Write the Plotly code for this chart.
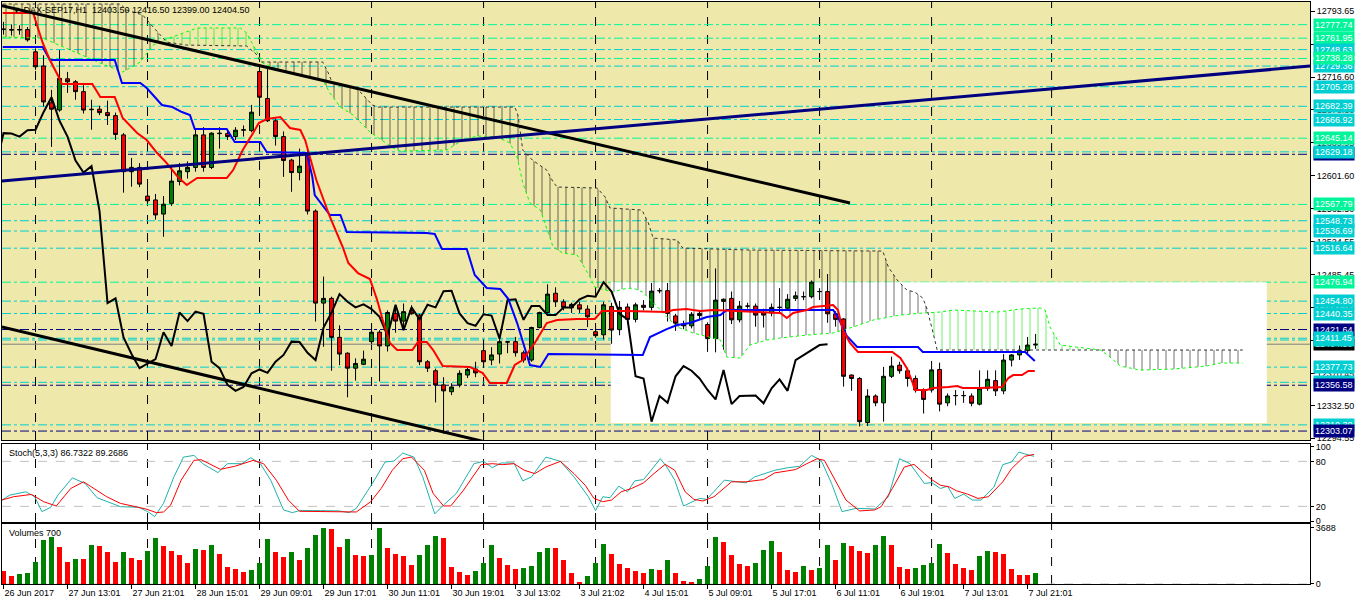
import numpy as np
import plotly.graph_objects as go
from plotly.subplots import make_subplots

# ---------------- DAX-SEP17, H1 bars (bar 0 = 26 Jun 2017 ... bar 129 = 7 Jul 2017) ----------------
opens = [12772, 12772, 12771.5, 12772, 12746, 12729.5, 12686.5, 12678, 12714.5, 12711,
         12699.5, 12679, 12679, 12675, 12671.5, 12649, 12606, 12611, 12577.5, 12573,
         12556.5, 12569, 12594.5, 12606, 12611, 12649, 12611, 12651, 12650.5, 12647,
         12654.5, 12654, 12723, 12691.5, 12665.5, 12647, 12619.5, 12605, 12625.5, 12560,
         12452.5, 12458, 12412.5, 12394, 12376.5, 12381, 12407.5, 12418.5, 12402.5, 12440.5,
         12431.5, 12443.5, 12438.5, 12384, 12373.5, 12357, 12349, 12357, 12368.5, 12375.5,
         12397, 12386, 12393, 12407.5, 12407.5, 12394.5, 12386, 12424, 12441.5, 12464,
         12454, 12447, 12450.5, 12445.5, 12419, 12415.5, 12448.5, 12421.5, 12448, 12433.5,
         12450, 12447.5, 12467, 12467, 12437.5, 12428, 12426, 12440.5, 12427.5, 12411,
         12454.5, 12458, 12433, 12449, 12449, 12441, 12441, 12447.5, 12446.5, 12458,
         12460, 12460, 12466, 12466, 12440, 12434, 12368.5, 12364.5, 12313, 12344,
         12336, 12367, 12380, 12373.5, 12364.5, 12351, 12351, 12375, 12336, 12344.5,
         12344.5, 12344, 12334.5, 12353, 12362, 12350, 12386, 12392, 12397, 12403.5]
highs = [12781, 12778, 12777, 12775, 12750, 12742, 12701.5, 12748, 12722.5, 12713,
         12707, 12690, 12683, 12689, 12675, 12651, 12622, 12616, 12588, 12580,
         12577.5, 12614, 12616, 12618, 12656, 12658, 12652, 12658, 12654, 12658,
         12660, 12684, 12729, 12728.5, 12668, 12653, 12621, 12633, 12633.5, 12562,
         12483.5, 12460, 12426.5, 12395, 12388, 12397, 12428, 12421, 12444, 12450,
         12452, 12450, 12440, 12386, 12376, 12366, 12359, 12374, 12377, 12384,
         12410, 12401, 12413, 12408, 12413, 12397, 12425, 12442.5, 12474.5, 12471,
         12457, 12453, 12454, 12450, 12421, 12454, 12453, 12455, 12452, 12453,
         12456, 12476, 12470, 12476, 12440, 12432, 12442, 12444, 12430, 12493,
         12458, 12466, 12455, 12453, 12452, 12446, 12452, 12470, 12463, 12466,
         12466, 12479, 12470, 12486.5, 12443, 12435, 12369, 12366, 12352, 12346,
         12378, 12390, 12384, 12377, 12368, 12353, 12385, 12383, 12347, 12351,
         12350, 12347, 12374, 12374, 12374, 12393, 12393, 12403, 12413, 12416.5]
lows = [12766, 12765, 12766, 12758, 12725, 12682, 12635, 12676, 12698, 12690,
        12674, 12655, 12672, 12660.5, 12643, 12581.5, 12588.5, 12588, 12569, 12550,
        12530, 12566, 12590, 12598, 12606, 12606, 12609, 12633, 12643, 12643,
        12647, 12652, 12682, 12664, 12636.5, 12600, 12582.5, 12596, 12556, 12431,
        12401.5, 12373.5, 12380, 12342.5, 12362, 12380, 12405, 12361, 12396, 12418,
        12424, 12439, 12380, 12372, 12336.5, 12300, 12345, 12354, 12365, 12366,
        12377, 12380, 12382, 12394, 12390, 12383, 12384, 12423, 12440, 12448,
        12444, 12441, 12441, 12424.5, 12412, 12410, 12405, 12415, 12428, 12430,
        12444, 12444, 12464, 12431, 12420, 12422, 12423, 12434, 12395.5, 12395,
        12398, 12428, 12430, 12446, 12425, 12424, 12437, 12440, 12444, 12455,
        12456, 12458, 12456, 12429.5, 12425, 12355, 12350, 12308.5, 12309, 12332,
        12314, 12365, 12370, 12355, 12348, 12323.5, 12348, 12326, 12332, 12333,
        12336, 12332, 12333, 12350, 12344, 12346, 12378.5, 12386, 12392, 12399]
closes = [12772.5, 12771.5, 12772, 12760, 12728.5, 12687.5, 12679, 12715, 12711, 12699.5,
          12678, 12678.5, 12675, 12671.5, 12649.5, 12606, 12611, 12591.5, 12572, 12555.5,
          12568, 12595, 12607, 12611, 12649, 12611, 12651, 12650.5, 12647, 12654.5,
          12655, 12675.5, 12693, 12665.5, 12647, 12619, 12605, 12612.5, 12560, 12452.5,
          12458, 12412.5, 12393, 12376.5, 12382, 12387, 12418.5, 12402.5, 12441.5, 12431.5,
          12442.5, 12440, 12384, 12376.5, 12357, 12350, 12354.5, 12370.5, 12375, 12371,
          12384, 12392, 12407.5, 12407, 12394.5, 12386, 12424, 12441.5, 12463, 12454,
          12447.5, 12451, 12445.5, 12436.5, 12414.5, 12450.5, 12421, 12447.5, 12433.5, 12450.5,
          12447.5, 12466.5, 12467, 12440.5, 12429, 12426, 12439.5, 12438, 12411, 12456,
          12457, 12433, 12449, 12449, 12438.5, 12438.5, 12447.5, 12447.5, 12457, 12461,
          12460, 12477, 12466, 12440, 12433.5, 12367, 12364.5, 12314, 12344, 12336,
          12367, 12379, 12373.5, 12364.5, 12351, 12340, 12374.5, 12334.5, 12344, 12344.5,
          12344.5, 12335.5, 12353, 12363.5, 12350, 12386, 12392, 12397, 12403.5, 12404.5]
volumes = [856, 549, 659, 746, 1449, 2898, 3095, 2437, 1449, 1646,
           1620, 2568, 2503, 2107, 1449, 2107, 1712, 1581, 2173, 3029,
           2503, 2173, 1910, 1383, 2305, 2239, 2568, 1976, 1120, 988,
           790, 922, 1383, 2964, 2107, 1778, 2107, 1581, 2371, 3227,
           3688, 3622, 2437, 2964, 1910, 1844, 1870, 3650, 2371, 1976,
           1844, 1251, 1910, 2568, 3161, 3029, 1120, 790, 593, 856,
           1383, 2568, 1712, 1251, 988, 1054, 1185, 2107, 2371, 2330,
           1581, 725, 132, 527, 1383, 2634, 1976, 1317, 1054, 856,
           725, 988, 922, 1581, 725, 198, 132, 329, 1185, 3095,
           2766, 1910, 1317, 1185, 1383, 2239, 2832, 2107, 922, 790,
           1185, 922, 1054, 2568, 1581, 2700, 2503, 2173, 2042, 2568,
           3161, 2568, 1120, 988, 1054, 1251, 1383, 2634, 2042, 1317,
           1054, 922, 1844, 2173, 2107, 1976, 988, 593, 570, 725]
bars = list(range(len(opens)))

# x axis labels (every 8 bars)
tick_bars = list(range(0, 129, 8))
tick_text = ["26 Jun 2017", "27 Jun 13:01", "27 Jun 21:01", "28 Jun 15:01", "29 Jun 09:01",
             "29 Jun 17:01", "30 Jun 11:01", "30 Jun 19:01", "3 Jul 13:02", "3 Jul 21:02",
             "4 Jul 15:01", "5 Jul 09:01", "5 Jul 17:01", "6 Jul 11:01", "6 Jul 19:01",
             "7 Jul 13:01", "7 Jul 21:01"]
grid_bars = [4, 18, 32, 46, 60, 74, 88, 102, 116, 131]

# ---------------- Ichimoku, read as (bar, price) vertices ----------------
tenkan_x = [-0.1, 3.7, 4.9, 5.8, 6.9, 7.3, 11.1, 12.1, 13.9, 14.9, 16.7, 17.9, 19.2, 20.4, 21.8, 22.9,
            24.2, 27.9, 28.7, 29.9, 31.2, 31.9, 32.9, 34.6, 35.8, 37.1, 37.7, 39.1, 40.8, 42.4, 43.1,
            44.3, 45.8, 46.7, 47.4, 48.3, 49.2, 51.1, 51.8, 52.9, 53.7, 54.9, 58.3, 59.9, 60.8, 62.9,
            63.9, 64.9, 66.4, 67.9, 69.2, 71.7, 73.9, 74.8, 77.9, 82.9, 83.7, 85.4, 86.2, 87.1, 88.7,
            97.1, 97.9, 98.7, 100.4, 101.2, 103.7, 104.3, 104.9, 105.8, 106.8, 111.1, 112.1, 112.9,
            113.6, 113.9, 115.4, 116.2, 118.1, 119.2, 119.9, 122.1, 124.8, 125.6, 126.2, 127.3,
            128.1, 128.9]
tenkan_y = [12791.3, 12791.3, 12756.3, 12736.4, 12716.6, 12708.4, 12708.4, 12693.2, 12693.2, 12668.7,
            12651.2, 12643, 12627.8, 12616.1, 12599.8, 12590.4, 12598.6, 12598.6, 12607.9, 12631.3,
            12651.2, 12662.8, 12667.5, 12669.8, 12657, 12654.7, 12643, 12596.3, 12553.1, 12518,
            12499.3, 12487.6, 12480.6, 12456.1, 12432.7, 12405.9, 12397.7, 12397.7, 12407.1, 12407.1,
            12397.7, 12379, 12377.9, 12370.8, 12359.2, 12359.2, 12380.2, 12386, 12405.9, 12429.2,
            12432.7, 12433.9, 12433.9, 12443.3, 12443.3, 12442.1, 12444.4, 12445.6, 12444.4, 12443.3,
            12444.4, 12440.9, 12435.1, 12440.9, 12444.4, 12447.9, 12450.3, 12444.4, 12421.1, 12405.9,
            12395.4, 12395.4, 12388.4, 12376.7, 12360.3, 12351, 12351, 12353.3, 12354.5, 12355.7,
            12353.3, 12353.3, 12354.5, 12365, 12368.5, 12368.5, 12373.2, 12373.2]
kijun_x = [-0.1, 4.9, 5.8, 13.9, 14.8, 17.1, 17.9, 19.8, 21.1, 22.3, 23.3, 23.9, 27.9, 28.9, 32.1,
           32.9, 37.9, 38.6, 38.9, 39.8, 40.8, 42.1, 42.9, 52.9, 53.9, 54.8, 57.9, 58.9, 60.4, 62.1,
           63.1, 64.2, 65.8, 67.1, 68.1, 79.9, 80.8, 82.9, 84.2, 85.8, 87.9, 89.6, 90.4, 103.7, 104.3,
           105.4, 106.7, 114.3, 114.9, 127.7, 128.3, 128.9]
kijun_y = [12751.6, 12751.6, 12736.4, 12736.4, 12709.6, 12709.6, 12703.7, 12683.9, 12681.5, 12675.7,
           12672.2, 12655.8, 12655.8, 12640.6, 12640.6, 12629, 12627.8, 12599.8, 12578.7, 12567.1,
           12555.4, 12555.4, 12535.5, 12534.4, 12533.2, 12515.7, 12515.7, 12485.3, 12470.1, 12468.9,
           12457.3, 12429.2, 12380.2, 12377.9, 12393, 12391.9, 12412.9, 12422.2, 12426.9, 12429.2,
           12436.2, 12438.6, 12444.4, 12444.4, 12436.2, 12414.1, 12401.2, 12401.2, 12395.4, 12395.4,
           12390.7, 12384.9]
span_a_x = [-0.1, 4.9, 12.1, 13.3, 14.9, 17.1, 18.7, 20.4, 22.9, 24.2, 29.6, 30.4, 31.2, 32.4, 34.6,
            38.3, 39.9, 40.8, 42.1, 43.7, 45.8, 48.7, 49.6, 55.4, 57.4, 59.2, 61.7, 63.3, 64.2, 64.9,
            65.8, 67.1, 68.7, 69.9, 71.7, 73.3, 73.9, 76.2, 77.4, 78.7, 79.9, 82.1, 84.2, 86.2, 89.6,
            90.4, 92.1, 93.3, 95.4, 97.1, 100.4, 103.7, 106.2, 108.7, 112.1, 114.9, 117.1, 118.7,
            122.9, 124.2, 127.1, 129.6, 130.2, 130.8, 132.1, 137.1, 138.3, 139.6, 142.1, 146.2,
            150.4, 152.1, 154.9]
span_a_y = [12763.3, 12762.1, 12732.9, 12728.2, 12722.4, 12734.1, 12753.9, 12761, 12769.1, 12773.8,
            12773.8, 12768, 12753.9, 12732.9, 12724.7, 12716.6, 12713, 12697.9, 12681.5, 12672.2,
            12652.3, 12633.6, 12630.1, 12631.3, 12643, 12647.7, 12646.5, 12639.5, 12623.1, 12592.8,
            12569.4, 12561.2, 12518, 12511, 12508.7, 12483, 12471.3, 12465.4, 12468.9, 12470.1,
            12465.4, 12444.4, 12424.6, 12417.6, 12409.4, 12389.5, 12388.4, 12403.5, 12409.4, 12411.7,
            12415.2, 12417.6, 12424.6, 12432.7, 12438.6, 12440.9, 12442.1, 12444.4, 12443.3, 12442.1,
            12445.6, 12446.8, 12444.4, 12424.6, 12403.5, 12397.7, 12389.5, 12379, 12374.3, 12375.5,
            12379, 12382.5, 12382.5]
span_b_x = [-0.1, 14.6, 15.4, 17.4, 18.7, 19.9, 20.4, 22.9, 30.4, 31.7, 32.1, 39.9, 40.6, 41.1, 43.7,
            44.6, 46.1, 46.8, 63.9, 64.3, 64.6, 64.9, 66.1, 67.9, 68.7, 69.2, 74.2, 75.2, 75.8, 79.8,
            80.6, 81.2, 84.2, 84.9, 93.3, 109.9, 110.6, 111.7, 112.9, 113.9, 114.9, 115.4, 116.1,
            116.7, 154.9]
span_b_y = [12801.8, 12801.8, 12794.8, 12789, 12775, 12762.1, 12757.4, 12753.9, 12752.8, 12742.3,
            12734.1, 12734.1, 12721.2, 12709.6, 12704.9, 12699, 12683.9, 12681.5, 12681.5, 12672.2,
            12651.2, 12631.3, 12619.6, 12607.9, 12593.9, 12588.1, 12586.9, 12576.4, 12563.6, 12561.2,
            12546, 12528.5, 12526.2, 12516.8, 12514.5, 12513.3, 12494.6, 12479.5, 12467.8, 12465.4,
            12458.4, 12446.8, 12421.1, 12397.7, 12397.7]
# bars where the cloud changes colour
cloud_twists = [-0.1, 20.2, 32.3, 115.5, 136.5, 154.9]
cloud_bull = [False, True, False, True, False]

# ---------------- Stochastic(5,3,3), read as (bar, value) vertices ----------------
stoch_k_x = [-0.2, 0.8, 2.8, 3.9, 4.8, 5.9, 6.8, 8.6, 10.2, 11.7, 14.6, 16.9, 18, 18.9, 20, 21.3,
             22.5, 23.8, 24.9, 26.8, 28, 29.8, 30.9, 32.1, 33.4, 35, 36.1, 37, 39.6, 41.9, 43.2,
             44.1, 46.1, 47.7, 48.8, 49.9, 51.3, 52.4, 53.9, 55, 56.6, 58.8, 60, 61.1, 62.2, 63.8,
             64.9, 66, 67.8, 69.6, 71.3, 73.1, 74, 74.9, 75.8, 76.9, 78, 78.9, 80, 82.1, 82.9,
             83.9, 85, 86.1, 87, 87.9, 90.1, 92.8, 93.9, 96.4, 98.1, 99.5, 101, 102.2, 103.5,
             104.8, 106.6, 108.9, 110.6, 112, 113.3, 115.1, 116, 117.1, 118, 118.9, 120, 121.1,
             122.2, 123.8, 124.9, 126, 126.9, 127.6, 128.8]
stoch_k_y = [28.4, 35, 39.4, 32.8, 13, 18.7, 35, 58, 50.5, 31.5, 19.6, 18.7, 13, 6.4, 24, 59.3,
             85.7, 87.9, 76.9, 65, 76.9, 76.9, 84.9, 76.9, 54.9, 15.2, 11.6, 14.3, 14.3, 13.9, 11.6,
             17.4, 50.5, 79.1, 80.4, 91, 85.7, 59.3, 9.9, 21.8, 37.2, 76.9, 80, 71.6, 77.8, 77.8,
             54, 59.3, 85.7, 80, 59.3, 32.8, 14.3, 32.8, 31.5, 46.9, 39.4, 54, 55.7, 83.5, 72.5,
             54.9, 20.5, 26.2, 30.6, 29.3, 54.9, 51.3, 59.3, 68.1, 71.6, 73.4, 87.9, 81.3, 50.5,
             13, 17.4, 16.5, 32.8, 83.5, 76.9, 50.5, 51.8, 43.8, 46.9, 30.6, 36.3, 28.4,
             28.4, 46, 75.6, 79.1, 92.3, 90.1, 86.7]
stoch_d_x = [-0.2, 1.25, 3.5, 5, 6.6, 8.4, 10, 11.3, 12.9, 14.6, 16.4, 17.8, 19.1, 20, 20.9, 22.2,
             23.8, 24.7, 27.1, 28.9, 31.2, 32.5, 34.1, 35.6, 37, 44.1, 45.9, 47.2, 48.6, 49.9, 51,
             52.6, 53.7, 55, 55.9, 57.5, 59.7, 61.1, 62.4, 63.8, 65.1, 66.4, 67.8, 69.6, 71.3, 72.7,
             73.8, 74.9, 76, 77.2, 78.5, 80, 81.4, 82.7, 83.9, 85.2, 86.3, 87.4, 88.8, 91, 92.8, 95,
             96.4, 99, 100.4, 101.7, 102.6, 104, 105.3, 107, 108.9, 109.7, 111.1, 112.6, 113.8,
             115.1, 116, 117.1, 118.2, 119.1, 120.5, 121.8, 123.1, 124.9, 126, 127.6, 128.8]
stoch_d_y = [28.4, 32.8, 35.9, 26.2, 20.5, 43.8, 52.7, 43.8, 32.8, 24, 19.6, 16.5, 11.6, 12.5, 21.8,
             54.9, 81.3, 82.2, 69.4, 73.4, 81.3, 76.9, 54.9, 28.4, 13.4, 12.5, 26.2, 43.8, 68.1, 83.5,
             85.7, 68.1, 37.2, 20.5, 20.5, 41.6, 75.6, 76.9, 75.6, 76.9, 68.1, 63.7, 72.5, 80, 63.7,
             48.2, 30.6, 26.2, 28.4, 39.4, 43.8, 51.3, 64.6, 76, 68.1, 39.4, 29.3, 27.1, 32.8, 52.7,
             52.7, 55.7, 64.6, 69, 76.9, 83.5, 81.3, 54.9, 28.4, 13.9, 15.2, 19.6, 43.8, 72.5, 76,
             63.7, 55.7, 48.2, 46, 40.8, 36.3, 30.6, 32.8, 52.7, 70.3, 86.6, 89.3]

# ---------------- horizontal levels and trend lines ----------------
green_levels = [12777.74, 12761.95, 12738.28, 12645.14, 12567.79, 12476.94]
cyan_levels = [12748.63, 12729.36, 12705.28, 12682.39, 12666.92, 12629.18, 12548.73, 12536.69,
               12516.64, 12454.80, 12440.35, 12411.45, 12409.40, 12377.73, 12360.00, 12310.30]
navy_levels = [12626.30, 12421.64, 12356.58, 12303.07]
last_price = 12404.50
hidden_labels = [12404.50, 12409.40, 12360.00, 12626.30, 12310.30, 12729.36]
price_ticks = [12294.55, 12332.50, 12370.45, 12408.50, 12447.00, 12485.45, 12524.55, 12562.50,
               12601.60, 12639.95, 12678.30, 12716.60, 12755.10, 12793.65]
trend_upper = [(-0.6, 12800.7), (105.8, 12569.4)]
trend_lower = [(-0.2, 12424.6), (64.0, 12282.0)]
trend_rising = [(-0.2, 12595.1), (163.3, 12729.4)]
box_bars = [75.9, 157.9]
box_prices = [12312.5, 12476.94]

GOLD = "#EEE8AA"
SPRING = "#00F59B"
TURQ = "#00CED1"
NAVY = "#000080"
FONT = "Liberation Sans, DejaVu Sans, sans-serif"

fig = make_subplots(rows=3, cols=1, shared_xaxes=True, vertical_spacing=0.0)

# cloud hatch
for (b0, b1), bull in zip(zip(cloud_twists[:-1], cloud_twists[1:]), cloud_bull):
    ax = [b0] + [b for b in span_a_x if b0 < b < b1] + [b1]
    bx = [b0] + [b for b in span_b_x if b0 < b < b1] + [b1]
    ay = list(np.interp(ax, span_a_x, span_a_y))
    by = list(np.interp(bx, span_b_x, span_b_y))
    fig.add_trace(go.Scatter(
        x=ax + bx[::-1], y=ay + by[::-1], mode="lines", fill="toself",
        fillcolor="rgba(0,0,0,0)", line=dict(width=0),
        fillpattern=dict(shape="|", size=8, solidity=0.1,
                         fgcolor="#00E000" if bull else "black", fgopacity=0.7),
        hoverinfo="skip", showlegend=False), row=1, col=1)

fig.add_trace(go.Scatter(x=span_a_x, y=span_a_y, mode="lines",
                         line=dict(color="#00FF00", width=1, dash="dot"),
                         hoverinfo="skip", showlegend=False), row=1, col=1)
fig.add_trace(go.Scatter(x=span_b_x, y=span_b_y, mode="lines",
                         line=dict(color="#333333", width=1, dash="dot"),
                         hoverinfo="skip", showlegend=False), row=1, col=1)

fig.add_trace(go.Candlestick(
    x=bars, open=opens, high=highs, low=lows, close=closes,
    increasing=dict(line=dict(color="black", width=1), fillcolor="#008000"),
    decreasing=dict(line=dict(color="black", width=1), fillcolor="#FF0000"),
    hoverinfo="skip", showlegend=False), row=1, col=1)

# chikou = close shifted back 26 bars
fig.add_trace(go.Scatter(x=[b - 26 for b in bars], y=closes, mode="lines",
                         line=dict(color="black", width=2),
                         hoverinfo="skip", showlegend=False), row=1, col=1)
fig.add_trace(go.Scatter(x=kijun_x, y=kijun_y, mode="lines",
                         line=dict(color="#0000FF", width=2),
                         hoverinfo="skip", showlegend=False), row=1, col=1)
fig.add_trace(go.Scatter(x=tenkan_x, y=tenkan_y, mode="lines",
                         line=dict(color="#FF0000", width=2),
                         hoverinfo="skip", showlegend=False), row=1, col=1)

# stochastic
fig.add_trace(go.Scatter(x=stoch_k_x, y=stoch_k_y, mode="lines",
                         line=dict(color="#20B2AA", width=1),
                         hoverinfo="skip", showlegend=False), row=2, col=1)
fig.add_trace(go.Scatter(x=stoch_d_x, y=stoch_d_y, mode="lines",
                         line=dict(color="#FF0000", width=1),
                         hoverinfo="skip", showlegend=False), row=2, col=1)

# volumes
vol_colors = ["#FF0000"] + ["#008000" if volumes[i] > volumes[i - 1] else "#FF0000"
                            for i in range(1, len(volumes))]
fig.add_trace(go.Bar(x=bars, y=volumes, marker=dict(color=vol_colors, line=dict(width=0)),
                     width=0.62, hoverinfo="skip", showlegend=False), row=3, col=1)

shapes = []
# main panel background + white box object
shapes.append(dict(type="rect", xref="x domain", yref="y domain", x0=0, x1=1, y0=0, y1=1,
                   fillcolor=GOLD, line=dict(width=0), layer="below"))
shapes.append(dict(type="rect", xref="x", yref="y", x0=box_bars[0], x1=box_bars[1],
                   y0=box_prices[0], y1=box_prices[1], fillcolor="white",
                   line=dict(width=0), layer="below"))
# vertical grid
for yr in ["y domain", "y2 domain", "y3 domain"]:
    for g in grid_bars:
        shapes.append(dict(type="line", xref="x", yref=yr, x0=g, x1=g, y0=0, y1=1,
                           line=dict(color="black", width=1, dash="dash"), layer="below"))
# horizontal levels
for levels, col in [(green_levels, SPRING), (cyan_levels, TURQ), (navy_levels, NAVY)]:
    for p in levels:
        shapes.append(dict(type="line", xref="x domain", yref="y", x0=0, x1=1, y0=p, y1=p,
                           line=dict(color=col, width=1, dash="dashdot"), layer="below"))
shapes.append(dict(type="line", xref="x domain", yref="y", x0=0, x1=1, y0=last_price,
                   y1=last_price, line=dict(color="#808080", width=1), layer="below"))
# trend lines
for (p0, p1), col in [((trend_upper[0], trend_upper[1]), "black"),
                      ((trend_lower[0], trend_lower[1]), "black"),
                      ((trend_rising[0], trend_rising[1]), NAVY)]:
    shapes.append(dict(type="line", xref="x", yref="y", x0=p0[0], y0=p0[1], x1=p1[0], y1=p1[1],
                       line=dict(color=col, width=3), layer="above"))
# stochastic levels
for lv in [20, 80]:
    shapes.append(dict(type="line", xref="x domain", yref="y2", x0=0, x1=1, y0=lv, y1=lv,
                       line=dict(color="#C0C0C0", width=1, dash="dash"), layer="below"))
shapes.append(dict(type="line", xref="x domain", yref="y3", x0=0, x1=1, y0=0, y1=0,
                   line=dict(color="#C0C0C0", width=1, dash="dash"), layer="below"))

# price labels on the right
label_color = {}
for p in green_levels:
    label_color[p] = SPRING
for p in cyan_levels:
    label_color[p] = TURQ
for p in navy_levels:
    label_color[p] = NAVY
label_color[last_price] = "black"
order = hidden_labels + sorted([p for p in label_color if p not in hidden_labels], reverse=True)
annotations = []
for p in order:
    annotations.append(dict(xref="paper", yref="y", x=1, y=p, xanchor="left", yanchor="middle",
                            xshift=3, text=f"{p:.2f}", showarrow=False, align="left",
                            bgcolor=label_color[p], borderpad=1,
                            font=dict(family=FONT, size=9, color="white")))

annotations.append(dict(xref="paper", yref="paper", x=0, y=1, xanchor="left", yanchor="top",
                        xshift=8, yshift=-1, showarrow=False,
                        text="\u25bc DAX-SEP17,H1  12403.50 12416.50 12399.00 12404.50",
                        font=dict(family=FONT, size=9, color="black")))
annotations.append(dict(xref="paper", yref="y2 domain", x=0, y=1, xanchor="left", yanchor="top",
                        xshift=5, yshift=-2, showarrow=False, text="Stoch(5,3,3) 86.7322 89.2686",
                        font=dict(family=FONT, size=9, color="black")))
annotations.append(dict(xref="paper", yref="y3 domain", x=0, y=1, xanchor="left", yanchor="top",
                        xshift=5, yshift=-2, showarrow=False, text="Volumes 700",
                        font=dict(family=FONT, size=9, color="black")))

axis_common = dict(showline=True, mirror=True, linecolor="black", linewidth=1,
                   showgrid=False, zeroline=False, automargin=False)
fig.update_layout(
    width=1358, height=606,
    margin=dict(l=2, r=48, t=2, b=22, autoexpand=False),
    paper_bgcolor="white", plot_bgcolor="white",
    font=dict(family=FONT, size=9, color="black"),
    showlegend=False, bargap=0,
    shapes=shapes, annotations=annotations,
    xaxis=dict(range=[-0.19, 163.3], showticklabels=False, ticks="",
               rangeslider=dict(visible=False), **axis_common),
    xaxis2=dict(range=[-0.19, 163.3], showticklabels=False, ticks="",
                rangeslider=dict(visible=False), **axis_common),
    xaxis3=dict(range=[-0.19, 163.3], tickvals=tick_bars, ticktext=tick_text,
                ticks="outside", ticklen=4, tickcolor="black", tickangle=0,
                ticklabelposition="outside right", tickfont=dict(size=9),
                rangeslider=dict(visible=False), **axis_common),
    yaxis=dict(domain=[0.2474, 1.0], range=[12292.6, 12804.2], side="right",
               tickvals=price_ticks, ticktext=[f"{t:.2f}" for t in price_ticks],
               ticks="outside", ticklen=4, tickcolor="black", tickfont=dict(size=9),
               **axis_common),
    yaxis2=dict(domain=[0.1065, 0.2405], range=[-0.9, 103.1], side="right",
                tickvals=[0, 20, 80, 100], ticks="outside", ticklen=3, tickcolor="black",
                tickfont=dict(size=9), **axis_common),
    yaxis3=dict(domain=[0.0, 0.1031], range=[0, 3930], side="right",
                tickvals=[0, 3688], ticks="outside", ticklen=3, tickcolor="black",
                tickfont=dict(size=9), **axis_common),
)

fig.write_html("out.html", config={"displayModeBar": False},
               post_script="document.body.style.margin='0px';")
